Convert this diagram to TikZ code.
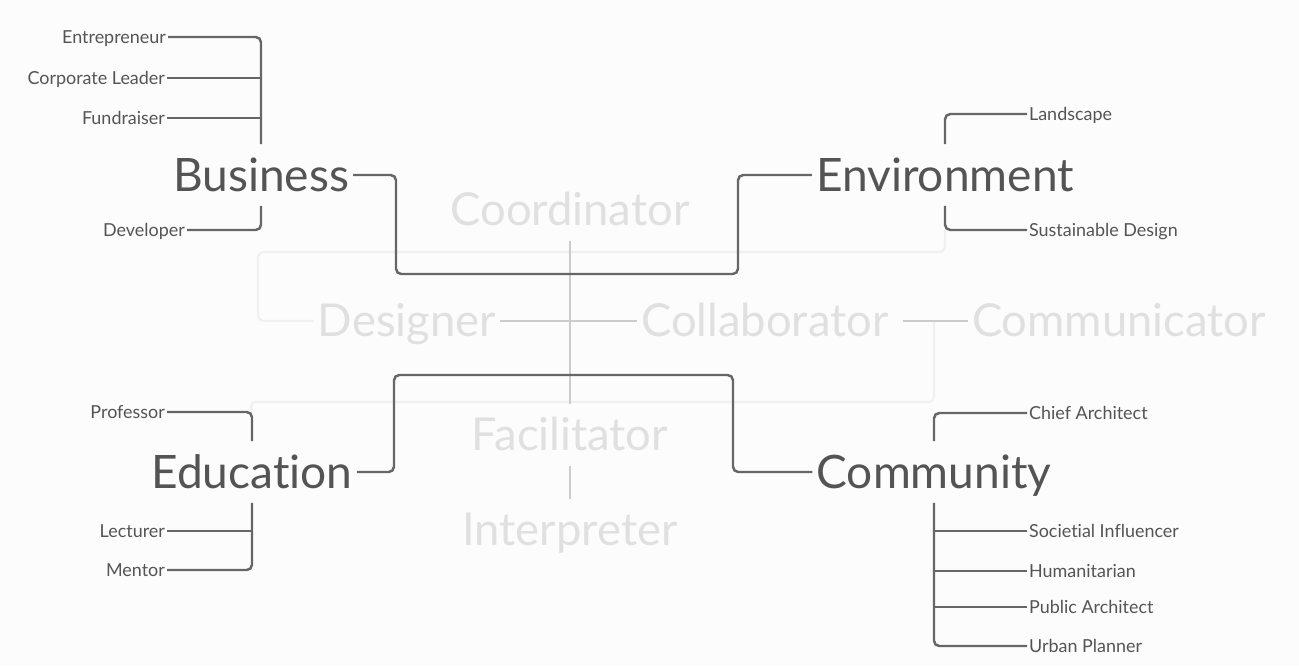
\documentclass[tikz,border=0pt]{standalone}
\usepackage{fontspec}
\setmainfont{Lato}[Ligatures={NoCommon,NoRare}]
\usetikzlibrary{positioning}

\begin{document}
\begin{tikzpicture}
	[x=0.01cm, y=-0.01cm,
	 role/.style={text=black!67, font=\fontsize{13.1}{15}\selectfont, inner xsep=1pt, inner ysep=4pt, text height=9.2pt, text depth=0pt},
	 ghost/.style={text=black!12, font=\fontsize{12.9}{15}\selectfont, inner xsep=1pt, inner ysep=4pt, text height=9pt, text depth=0pt},
	 leaf/.style={text=black!67, font=\fontsize{5.1}{6}\selectfont, inner xsep=0.4pt, inner ysep=1pt, text height=3.5pt, text depth=0pt},
	 link/.style={draw=black!60, line width=0.7pt, rounded corners=1.5pt},
	 trace/.style={draw=black!20, line width=0.6pt},
	 haze/.style={draw=black!6, line width=0.6pt, rounded corners=1.5pt}]
   \fill[black!1] (0,0) rectangle (1299,666);

   \node[ghost] (coord) at (570,210) {Coordinator};
   \node[ghost] (des)   at (407,321) {Designer};
   \node[ghost] (coll)  at (765,321) {Collaborator};
   \node[ghost] (comm)  at (1119,321) {Communicator};
   \node[ghost] (fac)   at (570,435) {Facilitator};
   \node[ghost] (int)   at (570,530) {Interpreter};

   \node[role] (bus) at (261,175) {Business};
   \node[role] (env) at (945,175) {Environment};
   \node[role] (edu) at (252,472) {Education};
   \node[role] (com) at (934,472) {Community};

   \node[leaf, anchor=east] (bus_1) at (168,37)  {Entrepreneur};
   \node[leaf, anchor=east] (bus_2) at (167,78)  {Corporate Leader};
   \node[leaf, anchor=east] (bus_3) at (167,118) {Fundraiser};
   \node[leaf, anchor=east] (bus_4) at (187,230) {Developer};
   \node[leaf, anchor=west] (env_1) at (1027,114) {Landscape};
   \node[leaf, anchor=west] (env_2) at (1027,230) {Sustainable Design};
   \node[leaf, anchor=east] (edu_1) at (167,412) {Professor};
   \node[leaf, anchor=east] (edu_2) at (167,531) {Lecturer};
   \node[leaf, anchor=east] (edu_3) at (167,570) {Mentor};
   \node[leaf, anchor=west] (com_1) at (1027,413) {Chief Architect};
   \node[leaf, anchor=west] (com_2) at (1027,531) {Societial Influencer};
   \node[leaf, anchor=west] (com_3) at (1027,571) {Humanitarian};
   \node[leaf, anchor=west] (com_4) at (1027,607) {Public Architect};
   \node[leaf, anchor=west] (com_5) at (1027,646) {Urban Planner};

   \coordinate (h_1) at (258,252);
   \coordinate (h_2) at (250,402);
   \coordinate (t_1) at (396,274);
   \coordinate (t_2) at (738,274);
   \coordinate (t_3) at (394,375);
   \coordinate (t_4) at (733,375);

   \draw[haze] (env_2.west -| env.south) |- (h_1) |- (des.west);
   \draw[haze] (coll.east -| com.north) |- (h_2) -- (edu_1.east -| edu.north);
   \draw[trace] (coord) -- (fac);
   \draw[trace] (fac) -- (int);
   \draw[trace] (des) -- (coll);
   \draw[trace, shorten <=3pt] (coll) -- (comm);

   \draw[link] (bus.east) -| (t_1) -- (t_2) |- (env.west);
   \draw[link] (edu.east) -| (t_3) -- (t_4) |- (com.west);

   \draw[link] (bus_1.east) -| (bus.north);
   \draw[link] (bus_2.east) -- (bus_2.east -| bus.north);
   \draw[link] (bus_3.east) -- (bus_3.east -| bus.north);
   \draw[link] (bus.south) |- (bus_4.east);
   \draw[link] (env.north) |- (env_1.west);
   \draw[link] (env.south) |- (env_2.west);
   \draw[link] (edu.north) |- (edu_1.east);
   \draw[link] (edu.south) |- (edu_3.east);
   \draw[link] (edu_2.east) -- (edu_2.east -| edu.south);
   \draw[link] (com.north) |- (com_1.west);
   \draw[link] (com.south) |- (com_5.west);
   \draw[link] (com_2.west) -- (com_2.west -| com.south);
   \draw[link] (com_3.west) -- (com_3.west -| com.south);
   \draw[link] (com_4.west) -- (com_4.west -| com.south);
\end{tikzpicture}
\end{document}
